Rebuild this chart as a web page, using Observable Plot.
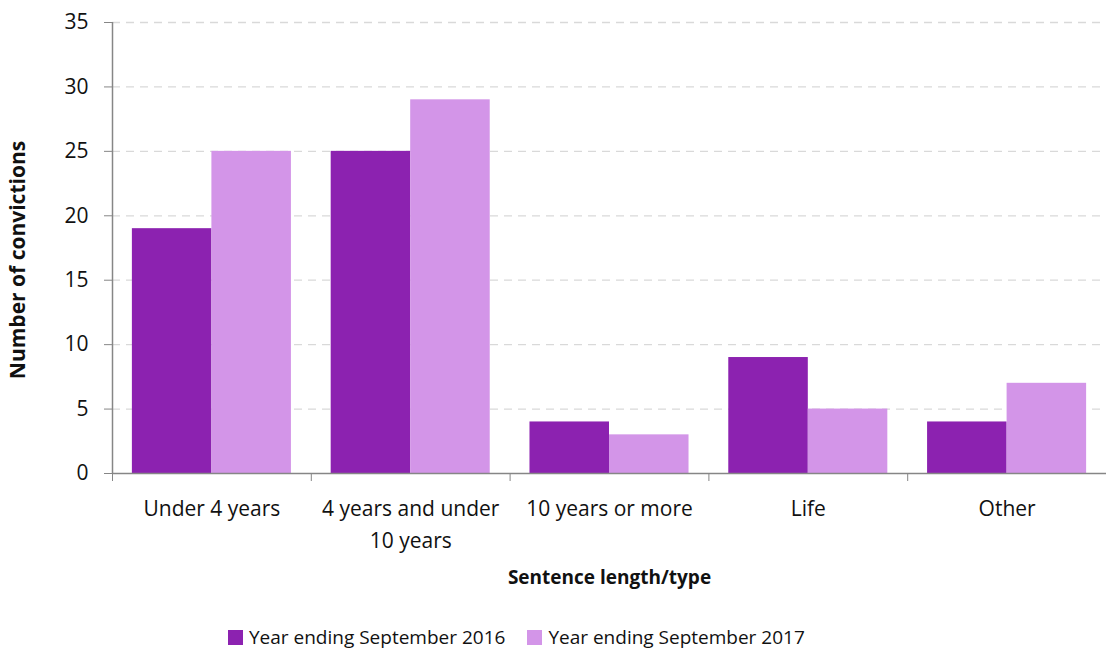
<!DOCTYPE html>
<html>
<head>
<meta charset="utf-8">
<script src="https://cdn.jsdelivr.net/npm/d3@7"></script>
<script src="https://cdn.jsdelivr.net/npm/@observablehq/plot@0.6"></script>
<style>
  body { margin: 0; background: #fff; font-family: "Open Sans", sans-serif; }
  #legend { display: flex; align-items: center; padding-left: 228px; height: 30px; font-size: 19px; color: #111; }
  .item { display: flex; align-items: center; margin-right: 22px; }
  .sw { width: 15px; height: 15px; margin-right: 6px; }
</style>
</head>
<body>
<div id="chart"></div>
<div id="legend"></div>
<script>
const categories = ["Under 4 years", "4 years and under\n10 years", "10 years or more", "Life", "Other"];
const seriesNames = ["Year ending September 2016", "Year ending September 2017"];
const values2016 = [19, 25, 4, 9, 4];
const values2017 = [25, 29, 3, 5, 7];
const yTicks = [0, 5, 10, 15, 20, 25, 30, 35];
const colors = ["#8C22B0", "#D395E8"];

const rows = [];
[values2016, values2017].forEach((vals, s) => {
  vals.forEach((v, i) => rows.push({cat: categories[i], i, s, series: seriesNames[s], value: v}));
});

const chart = Plot.plot({
  width: 1106,
  height: 622,
  marginLeft: 112,
  marginRight: 0,
  marginTop: 22,
  marginBottom: 149,
  style: {fontFamily: "'Open Sans', sans-serif", fontSize: "21px", color: "#111"},
  x: {domain: [0, categories.length], axis: null},
  y: {domain: [0, 35], axis: null},
  color: {domain: seriesNames, range: colors},
  marks: [
    Plot.ruleY(yTicks.filter(d => d > 0), {stroke: "#d9d9d9", strokeDasharray: "8,6", strokeWidth: 1.3}),
    Plot.rectY(rows, {
      x1: d => d.i + 0.1 + d.s * 0.4,
      x2: d => d.i + 0.1 + (d.s + 1) * 0.4,
      y: "value",
      fill: "series"
    }),
    Plot.ruleY([0], {stroke: "#868686", strokeWidth: 1.5}),
    Plot.ruleX([0], {y1: 0, y2: 35, stroke: "#868686", strokeWidth: 1.5}),
    Plot.axisY({ticks: yTicks, tickSize: 8, tickPadding: 16, stroke: "#868686", fontSize: 21, label: null}),
    Plot.axisX({ticks: d3.range(categories.length + 1), tickFormat: () => "", tickSize: 8, stroke: "#868686", label: null}),
    Plot.axisX({
      ticks: categories.map((c, i) => i + 0.5),
      tickFormat: d => categories[Math.floor(d)],
      tickSize: 0, tickPadding: 20, fontSize: 21, lineHeight: 1.52, label: null
    }),
    Plot.text(["Sentence length/type"], {frameAnchor: "bottom", dy: 110, fontWeight: "bold", fontSize: 19}),
    Plot.text(["Number of convictions"], {frameAnchor: "left", dx: -94, dy: 12, rotate: -90, textAnchor: "middle", fontWeight: "bold", fontSize: 21})
  ]
});
document.getElementById("chart").appendChild(chart);

const legend = document.getElementById("legend");
seriesNames.forEach((name, k) => {
  const item = document.createElement("div");
  item.className = "item";
  const sw = document.createElement("span");
  sw.className = "sw";
  sw.style.background = colors[k];
  const t = document.createElement("span");
  t.textContent = name;
  item.appendChild(sw);
  item.appendChild(t);
  legend.appendChild(item);
});
</script>
</body>
</html>
